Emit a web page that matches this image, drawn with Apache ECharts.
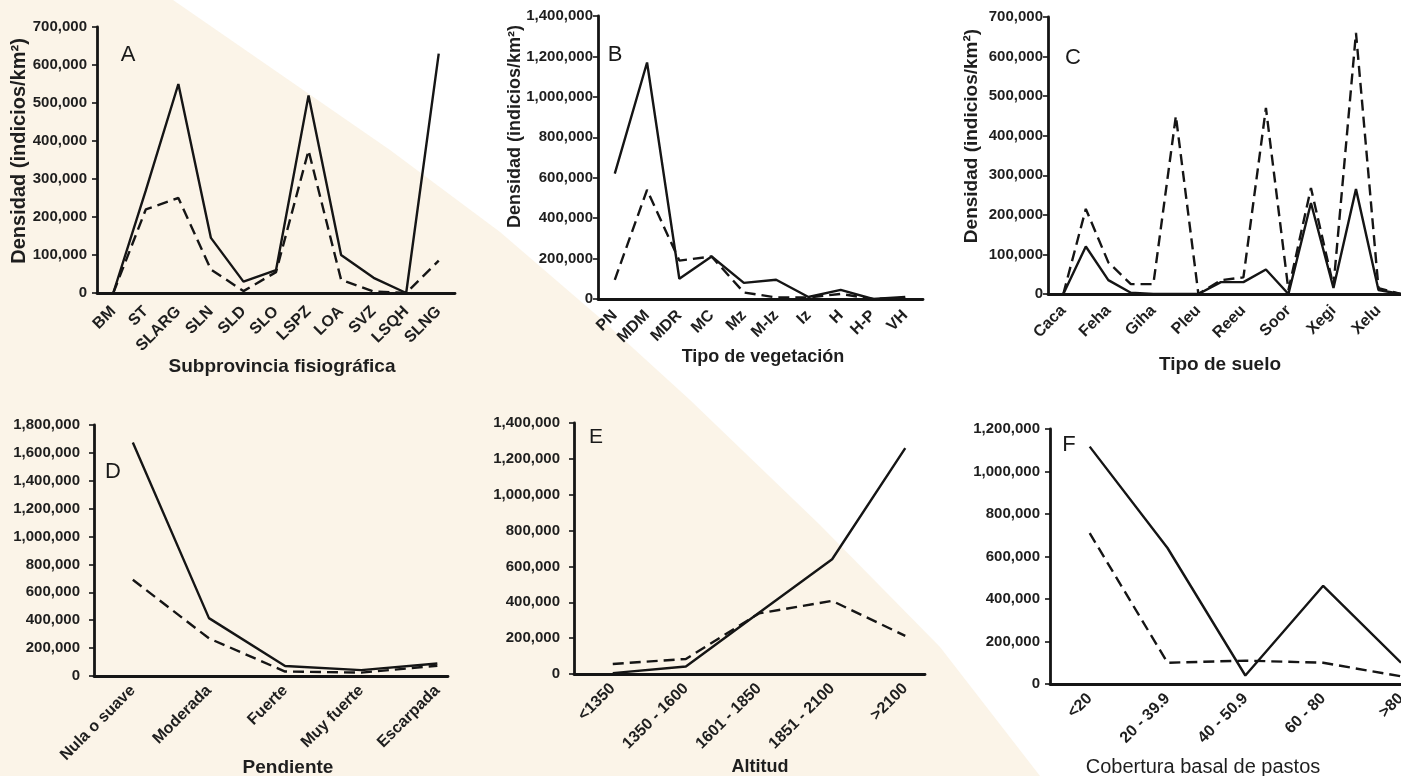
<!DOCTYPE html>
<html>
<head>
<meta charset="utf-8">
<script src="https://cdn.jsdelivr.net/npm/echarts@6/dist/echarts.min.js"></script>
<style>
html,body{margin:0;padding:0;background:#ffffff;}
#chart{width:1401px;height:776px;}
</style>
</head>
<body>
<div id="chart"></div>
<script>
// ---- Data ----
const catA = ['BM','ST','SLARG','SLN','SLD','SLO','LSPZ','LOA','SVZ','LSQH','SLNG'];
const solidA = [0, 270000, 550000, 145000, 30000, 60000, 520000, 100000, 40000, 0, 630000];
const dashA  = [0, 220000, 250000, 62000, 5000, 55000, 375000, 35000, 4000, 0, 85000];

const catB = ['PN','MDM','MDR','MC','Mz','M-Iz','Iz','H','H-P','VH'];
const solidB = [620000, 1170000, 100000, 210000, 80000, 95000, 10000, 45000, 0, 10000];
const dashB  = [95000, 540000, 190000, 210000, 32000, 8000, 8000, 25000, 0, 5000];

const catC = ['Caca','','Feha','','Giha','','Pleu','','Reeu','','Soor','','Xegi','','Xelu',''];
const solidC = [0, 120000, 35000, 3000, 0, 0, 0, 30000, 30000, 62000, 0, 230000, 15000, 265000, 10000, 0];
const dashC  = [0, 215000, 80000, 25000, 25000, 450000, 0, 35000, 42000, 470000, 10000, 268000, 20000, 660000, 15000, 0];
const labelIdxC = [0, 2, 4, 6, 8, 10, 12, 14];

const catD = ['Nula o suave','Moderada','Fuerte','Muy fuerte','Escarpada'];
const solidD = [1675000, 415000, 72000, 42000, 90000];
const dashD  = [690000, 270000, 32000, 24000, 74000];

const catE = ['<1350','1350 - 1600','1601 - 1850','1851 - 2100','>2100'];
const solidE = [5000, 42000, 342000, 640000, 1260000];
const dashE  = [56000, 84000, 338000, 408000, 213000];

const catF = ['<20','20 - 39.9','40 - 50.9','60 - 80','>80'];
const solidF = [1117000, 640000, 40000, 462000, 100000];
const dashF  = [710000, 100000, 110000, 100000, 36000];

const yTitle = 'Densidad (indicios/km²)';

// ---- Layout / style ----
const FONT = "'Liberation Sans', Arial, sans-serif";
const INK = '#151515';

const panels = [
  {letter:'A', cats:catA, solid:solidA, dash:dashA, labels:null,
   grid:{left:97, top:27, width:358, height:266}, xmin:-0.5, xmax:10.5, ymax:700000, yint:100000,
   ylm:10, xlm:16, xName:'Subprovincia fisiográfica', xGap:74, xPad:[0,0,0,12], xFs:19, xFw:'bold',
   yName:yTitle, yGap:78, yPad:[0,0,0,18], yFs:20, letterPos:[128,55], letterFs:22},
  {letter:'B', cats:catB, solid:solidB, dash:dashB, labels:null,
   grid:{left:598, top:16, width:325, height:283}, xmin:-0.52, xmax:9.55, ymax:1400000, yint:200000,
   ylm:5, xlm:14, xName:'Tipo de vegetación', xGap:58, xPad:[0,0,0,5], xFs:18, xFw:'bold',
   yName:yTitle, yGap:83, yPad:[0,0,0,62], yFs:18, letterPos:[615,55], letterFs:22},
  {letter:'C', cats:catC, solid:solidC, dash:dashC, labels:labelIdxC,
   grid:{left:1048, top:17, width:353, height:277}, xmin:-0.68, xmax:15, ymax:700000, yint:100000,
   ylm:5, xlm:14, xName:'Tipo de suelo', xGap:71, xPad:[0,9,0,0], xFs:19, xFw:'bold',
   yName:yTitle, yGap:76, yPad:[0,0,0,39], yFs:19, letterPos:[1073,58], letterFs:22},
  {letter:'D', cats:catD, solid:solidD, dash:dashD, labels:null,
   grid:{left:94, top:425, width:354, height:251}, xmin:-0.51, xmax:4.14, ymax:1800000, yint:200000,
   ylm:14, xlm:12, xName:'Pendiente', xGap:92, xPad:[0,0,0,34], xFs:19, xFw:'bold',
   yName:'', letterPos:[113,472], letterFs:22},
  {letter:'E', cats:catE, solid:solidE, dash:dashE, labels:null,
   grid:{left:574, top:423, width:351, height:251}, xmin:-0.53, xmax:4.27, ymax:1400000, yint:200000,
   ylm:14, xlm:12, xName:'Altitud', xGap:93, xPad:[0,0,0,21], xFs:18, xFw:'bold',
   yName:'', letterPos:[596,437], letterFs:21},
  {letter:'F', cats:catF, solid:solidF, dash:dashF, labels:null,
   grid:{left:1050, top:429, width:351, height:255}, xmin:-0.51, xmax:4.0, ymax:1200000, yint:200000,
   ylm:10, xlm:12, xName:'Cobertura basal de pastos', xGap:83, xPad:[0,45,0,0], xFs:20, xFw:'normal',
   yName:'', letterPos:[1069,445], letterFs:22}
];

function fmtNum(v){ return String(v).replace(/\B(?=(\d{3})+(?!\d))/g, ','); }

const grid = [], xAxis = [], yAxis = [], series = [], graphic = [];

// beige background shape
graphic.push({
  type:'polygon', z:-100, silent:true,
  shape:{points:[[0,0],[173,0],[390,150],[500,232],[600,318],[690,400],[820,525],[940,647],[1040,776],[0,776]]},
  style:{fill:'#fbf4e8'}
});

panels.forEach((p, i) => {
  grid.push(Object.assign({outerBoundsMode:'none', containLabel:false}, p.grid));
  const labelVals = p.labels || p.cats.map((c, k) => k);
  xAxis.push({
    type:'value', gridIndex:i, min:p.xmin, max:p.xmax,
    axisLine:{show:true, onZero:false, lineStyle:{color:INK, width:2.8}},
    axisTick:{show:false},
    splitLine:{show:false},
    axisLabel:{
      customValues: labelVals,
      formatter: v => p.cats[Math.round(v)],
      rotate:45, margin:p.xlm, color:'#1e1e1e',
      fontFamily:FONT, fontWeight:'bold', fontSize:16
    },
    name:p.xName, nameLocation:'middle', nameGap:p.xGap, nameMoveOverlap:false,
    nameTextStyle:{fontFamily:FONT, fontWeight:p.xFw, fontSize:p.xFs, color:'#1e1e1e',
                   verticalAlign:'middle', padding:p.xPad}
  });
  const ya = {
    type:'value', gridIndex:i, min:0, max:p.ymax, interval:p.yint,
    axisLine:{show:true, onZero:false, lineStyle:{color:INK, width:2.8}},
    axisTick:{show:true, length:5, lineStyle:{color:INK, width:1.6}},
    splitLine:{show:false},
    axisLabel:{formatter:fmtNum, margin:p.ylm, color:'#1e1e1e',
               fontFamily:FONT, fontWeight:'bold', fontSize:15}
  };
  if (p.yName) {
    Object.assign(ya, {
      name:p.yName, nameLocation:'middle', nameGap:p.yGap, nameMoveOverlap:false,
      nameTextStyle:{fontFamily:FONT, fontWeight:'bold', fontSize:p.yFs, color:'#1e1e1e',
                     verticalAlign:'middle', padding:p.yPad}
    });
  }
  yAxis.push(ya);
  series.push({
    type:'line', xAxisIndex:i, yAxisIndex:i, symbol:'none', z:3,
    data:p.solid.map((v, k) => [k, v]),
    lineStyle:{color:INK, width:2.4, type:'solid'}
  });
  series.push({
    type:'line', xAxisIndex:i, yAxisIndex:i, symbol:'none', z:3,
    data:p.dash.map((v, k) => [k, v]),
    lineStyle:{color:INK, width:2.4, type:[11,6]}
  });
  graphic.push({
    type:'text', x:p.letterPos[0], y:p.letterPos[1], silent:true, z:10,
    style:{text:p.letter, fontFamily:FONT, fontSize:p.letterFs, fill:'#1a1a1a',
           align:'center', verticalAlign:'middle'}
  });
});

const chart = echarts.init(document.getElementById('chart'), null, {renderer:'canvas'});
chart.setOption({
  animation:false,
  backgroundColor:'#ffffff',
  grid, xAxis, yAxis, series, graphic
});
</script>
</body>
</html>
